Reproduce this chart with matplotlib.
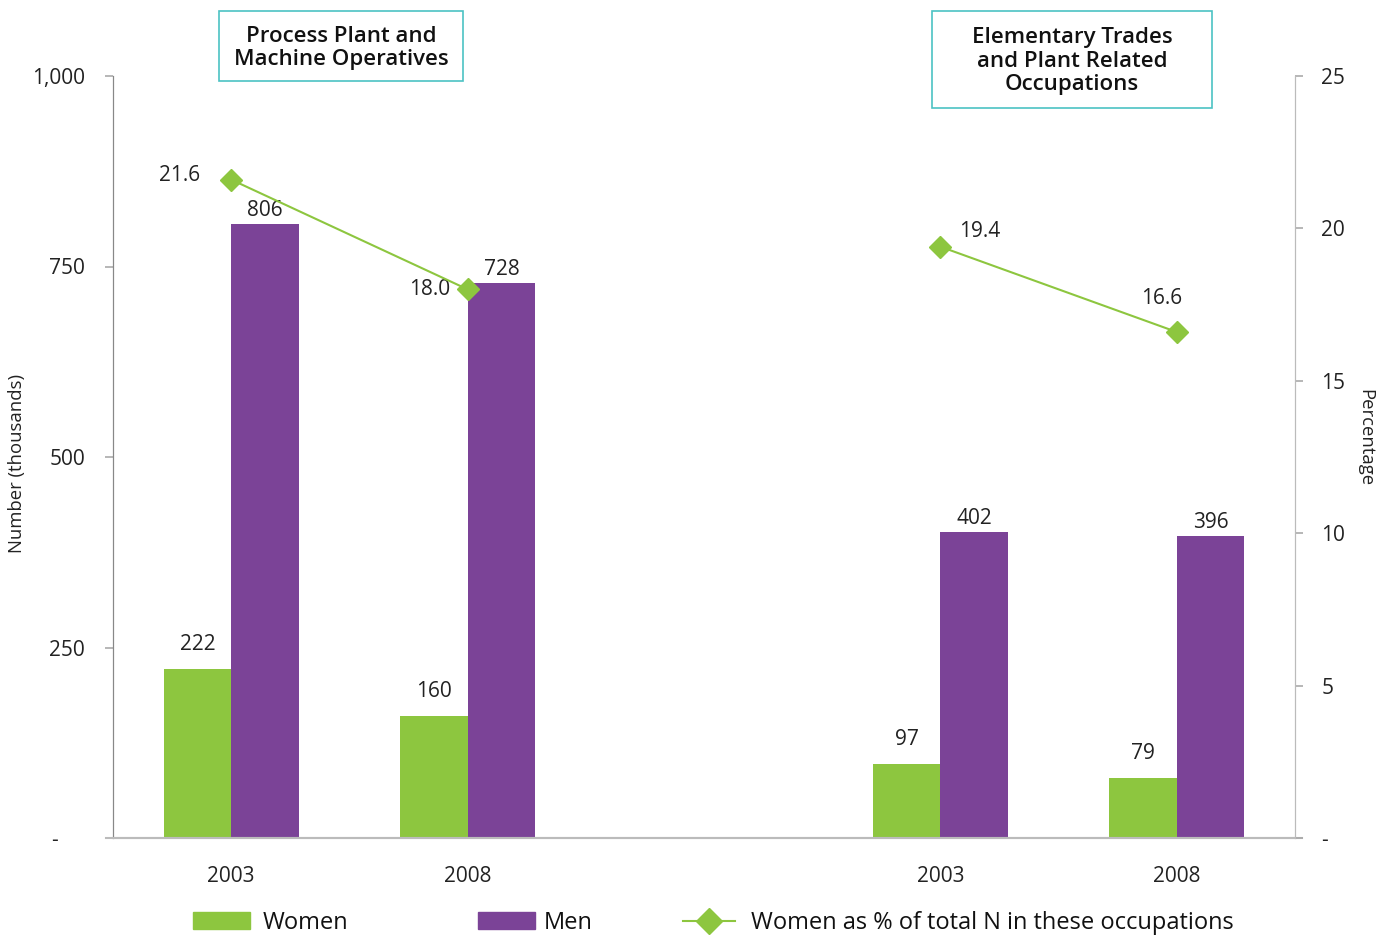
import matplotlib
matplotlib.use("Agg")
import matplotlib.pyplot as plt
from matplotlib.patches import Rectangle
from matplotlib.lines import Line2D
from matplotlib.ticker import FuncFormatter
import numpy as np

plt.rcParams['font.family'] = ['Open Sans', 'DejaVu Sans']

# data
years = ['2003', '2008', '2003', '2008']
x_pos = [0, 1, 3, 4]
women = [222, 160, 97, 79]
men = [806, 728, 402, 396]
pct_groups = [[21.6, 18.0], [19.4, 16.6]]
group_titles = ['Process Plant and\nMachine Operatives',
                'Elementary Trades\nand Plant Related\nOccupations']
legend_labels = ['Women', 'Men', 'Women as % of total N in these occupations']

GREEN = '#8DC63F'
PURPLE = '#7B4397'
TEAL = '#4CC2C4'
TXT = '#222222'

fig = plt.figure(figsize=(13.94, 9.35), dpi=100)
ax = fig.add_axes([113/1394, 1-838/935, (1295-113)/1394, (838-76)/935])
ax2 = ax.twinx()

w = 0.286
x = np.array(x_pos)
ax.bar(x - w/2, women, w, color=GREEN, zorder=2)
ax.bar(x + w/2, men, w, color=PURPLE, zorder=2)

for xi, v in zip(x - w/2, women):
    ax.annotate(str(v), (xi, v), xytext=(0, 10), textcoords='offset points',
                ha='center', va='bottom', fontsize=15, color=TXT)
for xi, v in zip(x + w/2, men):
    ax.annotate(str(v), (xi, v), xytext=(0, 2), textcoords='offset points',
                ha='center', va='bottom', fontsize=15, color=TXT)

ax.set_xlim(-0.5, 4.5)
ax.set_ylim(0, 1000)
ax.set_yticks([0, 250, 500, 750, 1000])
ax.yaxis.set_major_formatter(FuncFormatter(lambda v, p: '-     ' if v == 0 else f'{int(v):,}'))
ax.set_xticks(x_pos)
ax.set_xticklabels(years)
ax.tick_params(axis='x', length=0, labelsize=15, pad=20, colors=TXT)
ax.tick_params(axis='y', length=6, width=1.2, color='#aaaaaa', labelsize=15, pad=14,
               labelcolor=TXT)
ax.set_ylabel('Number (thousands)', fontsize=13.3, color=TXT)
ax.yaxis.set_label_coords(-0.0736, 0.492)

# line series (each occupation group separately)
gx = [[0, 1], [3, 4]]
for xs, ps in zip(gx, pct_groups):
    ax2.plot(xs, ps, color=GREEN, lw=1.5, marker='D', markersize=11,
             markerfacecolor=GREEN, markeredgecolor=GREEN, zorder=5)

offsets = [(-37, 3), (-27, 0), (28, 11), (-11, 24)]
flat_p = [p for ps in pct_groups for p in ps]
for xi, p, off in zip(x_pos, flat_p, offsets):
    ax2.annotate(f'{p:.1f}', (xi, p), xytext=off, textcoords='offset points',
                 ha='center', va='center', fontsize=15, color=TXT)

ax2.set_ylim(0, 25)
ax2.set_yticks([0, 5, 10, 15, 20, 25])
ax2.yaxis.set_major_formatter(FuncFormatter(lambda v, p: '-' if v == 0 else f'{int(v)}'))
ax2.tick_params(axis='y', length=6, width=1.2, color='#aaaaaa', labelsize=15, pad=13,
                labelcolor=TXT)
ax2.set_ylabel('Percentage', fontsize=13.3, rotation=270, color=TXT, va='center')
ax2.yaxis.set_label_coords(1.0595, 0.526)

for a in (ax, ax2):
    a.spines['top'].set_visible(False)
    a.spines['left'].set_color('#888888')
    a.spines['right'].set_color('#bbbbbb')
    a.spines['bottom'].set_color('#bbbbbb')
    a.spines['bottom'].set_linewidth(1.5)
ax.spines['bottom'].set_bounds(-0.53, 4.53)

# group title boxes
boxes = [(219, 11, 463, 81), (932, 11, 1212, 108)]
for (x0, y0, x1, y1), t in zip(boxes, group_titles):
    fig.patches.append(Rectangle((x0/1394, 1-y1/935), (x1-x0)/1394, (y1-y0)/935,
                                 transform=fig.transFigure, fill=False,
                                 edgecolor=TEAL, lw=1.2))
    fig.text((x0+x1)/2/1394, 1-(y0+y1)/2/935 - 0.002, t, ha='center', va='center',
             fontsize=16, fontweight='semibold', linespacing=1.15, color='#111111')

# legend: three entries placed separately
handles = [Rectangle((0, 0), 1, 1, color=GREEN),
           Rectangle((0, 0), 1, 1, color=PURPLE),
           Line2D([], [], color=GREEN, lw=1.5, marker='D', markersize=13,
                  markerfacecolor=GREEN, markeredgecolor=GREEN)]
lx = [193, 478, 683]
hl = [2.4, 2.4, 2.2]
pads = [0.55, 0.4, 0.7]
for h, lab, xl, L, tp in zip(handles, legend_labels, lx, hl, pads):
    leg = fig.legend([h], [lab], loc='center left', bbox_to_anchor=(xl/1394, 1-923/935),
                     frameon=False, borderpad=0, borderaxespad=0, fontsize=17,
                     handlelength=L, handleheight=0.75, handletextpad=tp)
    for t in leg.get_texts():
        t.set_fontweight('medium')
        t.set_color('#111111')

fig.savefig('out.png', dpi=100)
